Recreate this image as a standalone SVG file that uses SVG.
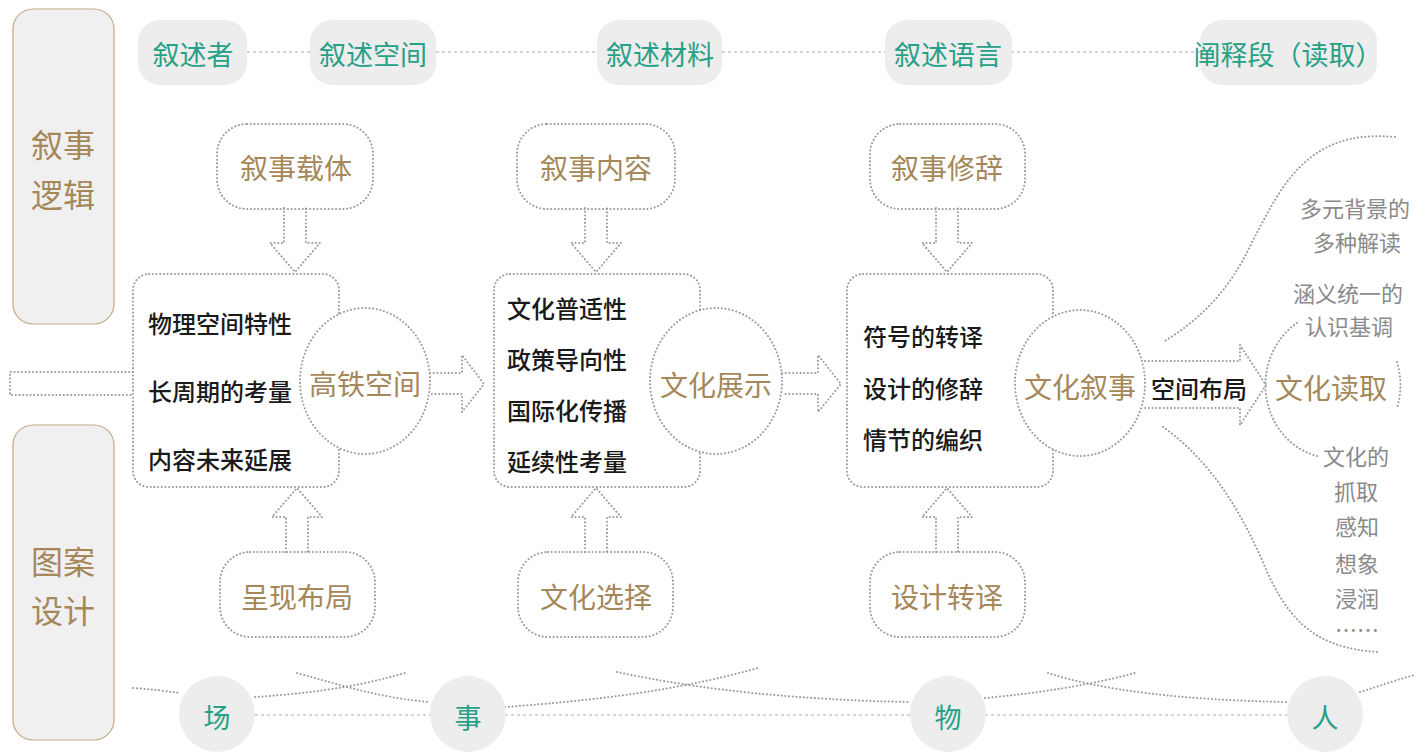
<svg xmlns="http://www.w3.org/2000/svg" width="1428" height="754" viewBox="0 0 1428 754">
<style>
text{font-family:"Noto Sans CJK SC","Noto Sans",sans-serif;text-anchor:middle;dominant-baseline:central}
.dot{fill:none;stroke:#9a9a9a;stroke-width:2;stroke-dasharray:0.1 3.6;stroke-linecap:round}
.dotw{fill:#fff;stroke:#9a9a9a;stroke-width:2;stroke-dasharray:0.1 3.6;stroke-linecap:round}
.dash{fill:none;stroke:#c8c8c8;stroke-width:1.3;stroke-dasharray:3 3}
.panel{fill:#f1f0f0;stroke:#c4a985;stroke-width:1.2}
.pill{fill:#ededed}
.teal{fill:#26a086;font-size:27px}
.gold{fill:#a5875a}
.blk{fill:#1a1a1a;font-size:24px;text-anchor:start;font-weight:500}
.gray{fill:#8a8a8a;font-size:22px}
</style>
<g id="connectors">
<path class="dash" d="M247,52H310M436,52H597M722,52H885M1011,52H1200"/>
<path class="dash" d="M255,715H430M505,715H910M985,715H1287"/>
<path class="dot" d="M284,208V243H270L295,272L320,243H306V208"/>
<path class="dot" d="M585,208V243H571L596,272L621,243H607V208"/>
<path class="dot" d="M936,208V243H922L947,272L972,243H958V208"/>
<path class="dot" d="M286,552V517H272L297,488L322,517H308V552"/>
<path class="dot" d="M585,552V517H571L596,488L621,517H607V552"/>
<path class="dot" d="M936,552V517H922L947,488L972,517H958V552"/>
<path class="dot" d="M133,372H10V395H133"/>
<path class="dot" d="M430,373H462V355L484,384L462,412V394H430"/>
<path class="dot" d="M782,373H818V355L841,384L818,412V394H782"/>
<path class="dot" d="M1145,361H1240V345L1266,385L1240,425V408H1145"/>
<path class="dot" d="M1395,137C1305,128 1280,190 1252,242C1230,290 1200,320 1163,342"/>
<path class="dot" d="M1163,427C1210,460 1240,510 1262,560C1285,615 1310,648 1378,652"/>
<path class="dot" d="M133,688Q160,690 180,693"/>
<path class="dot" d="M255,697C330,692 370,683 405,673"/>
<path class="dot" d="M297,673C340,685 380,698 430,702"/>
<path class="dot" d="M505,707C600,700 680,690 758,668"/>
<path class="dot" d="M617,672C700,690 800,700 910,702"/>
<path class="dot" d="M985,698C1040,693 1090,685 1135,673"/>
<path class="dot" d="M1048,673C1100,690 1180,700 1287,702"/>
<path class="dot" d="M1360,692C1380,686 1395,680 1415,675"/>
</g>
<g id="panel-logic"><rect class="panel" x="13" y="9" width="101" height="315" rx="20"/><text class="gold" x="63" y="143" font-size="32">叙事</text><text class="gold" x="63" y="193" font-size="32">逻辑</text></g>
<g id="panel-design"><rect class="panel" x="13" y="425" width="101" height="315" rx="20"/><text class="gold" x="63" y="560" font-size="32">图案</text><text class="gold" x="63" y="609" font-size="32">设计</text></g>
<g id="p1"><rect class="pill" x="138" y="20" width="109" height="65" rx="22"/><text class="teal" x="193" y="53">叙述者</text></g>
<g id="p2"><rect class="pill" x="310" y="20" width="126" height="65" rx="22"/><text class="teal" x="373" y="53">叙述空间</text></g>
<g id="p3"><rect class="pill" x="597" y="20" width="125" height="65" rx="22"/><text class="teal" x="660" y="53">叙述材料</text></g>
<g id="p4"><rect class="pill" x="885" y="20" width="127" height="65" rx="22"/><text class="teal" x="948" y="53">叙述语言</text></g>
<g id="p5"><rect class="pill" x="1200" y="20" width="177" height="65" rx="22"/><text class="teal" x="1288" y="53">阐释段（读取）</text></g>
<g id="t1"><rect class="dot" x="217" y="124" width="156" height="85" rx="30"/><text class="gold" x="296" y="167" font-size="28">叙事载体</text></g>
<g id="t2"><rect class="dot" x="517" y="124" width="158" height="85" rx="30"/><text class="gold" x="596" y="167" font-size="28">叙事内容</text></g>
<g id="t3"><rect class="dot" x="870" y="124" width="155" height="85" rx="30"/><text class="gold" x="947" y="167" font-size="28">叙事修辞</text></g>
<g id="b1"><rect class="dot" x="220" y="552" width="155" height="85" rx="30"/><text class="gold" x="297" y="596" font-size="28">呈现布局</text></g>
<g id="b2"><rect class="dot" x="518" y="552" width="155" height="85" rx="30"/><text class="gold" x="596" y="596" font-size="28">文化选择</text></g>
<g id="b3"><rect class="dot" x="870" y="552" width="155" height="85" rx="30"/><text class="gold" x="947" y="596" font-size="28">设计转译</text></g>
<g id="box1"><rect class="dot" x="133" y="274" width="206" height="213" rx="16"/><text class="blk" x="148" y="322">物理空间特性</text><text class="blk" x="148" y="390">长周期的考量</text><text class="blk" x="148" y="458">内容未来延展</text></g>
<g id="c1"><ellipse class="dotw" cx="365" cy="381" rx="65" ry="73"/><text class="gold" x="365" y="383" font-size="28">高铁空间</text></g>
<g id="box2"><rect class="dot" x="494" y="274" width="206" height="213" rx="16"/><text class="blk" x="507" y="307">文化普适性</text><text class="blk" x="507" y="358">政策导向性</text><text class="blk" x="507" y="409">国际化传播</text><text class="blk" x="507" y="460">延续性考量</text></g>
<g id="c2"><ellipse class="dotw" cx="716" cy="381" rx="66" ry="73"/><text class="gold" x="716" y="384" font-size="28">文化展示</text></g>
<g id="box3"><rect class="dot" x="847" y="274" width="206" height="213" rx="16"/><text class="blk" x="863" y="335">符号的转译</text><text class="blk" x="863" y="387">设计的修辞</text><text class="blk" x="863" y="438">情节的编织</text></g>
<g id="c3"><ellipse class="dotw" cx="1080" cy="383" rx="65" ry="73"/><text class="gold" x="1080" y="386" font-size="28">文化叙事</text></g>
<g id="layout-label"><text fill="#1a1a1a" font-weight="500" x="1199" y="387" font-size="24">空间布局</text></g>
<g id="c4"><path class="dot" d="M1297,323A67,73 0 0 0 1317,456"/><path class="dot" d="M1397,362A67,73 0 0 1 1397,408"/><text class="gold" x="1331" y="387" font-size="28">文化读取</text></g>
<g id="notes"><text class="gray" x="1355" y="207">多元背景的</text><text class="gray" x="1357" y="241">多种解读</text><text class="gray" x="1348" y="292">涵义统一的</text><text class="gray" x="1349" y="325">认识基调</text><text class="gray" x="1356" y="455">文化的</text><text class="gray" x="1356" y="490">抓取</text><text class="gray" x="1357" y="525">感知</text><text class="gray" x="1357" y="562">想象</text><text class="gray" x="1357" y="597">浸润</text><text class="gray" x="1357" y="628">……</text></g>
<g id="n1"><circle class="pill" cx="217" cy="714" r="38"/><text class="teal" x="217" y="716" font-size="26">场</text></g>
<g id="n2"><circle class="pill" cx="468" cy="714" r="38"/><text class="teal" x="468" y="716" font-size="26">事</text></g>
<g id="n3"><circle class="pill" cx="948" cy="714" r="38"/><text class="teal" x="948" y="716" font-size="26">物</text></g>
<g id="n4"><circle class="pill" cx="1325" cy="714" r="38"/><text class="teal" x="1325" y="716" font-size="26">人</text></g>
</svg>
